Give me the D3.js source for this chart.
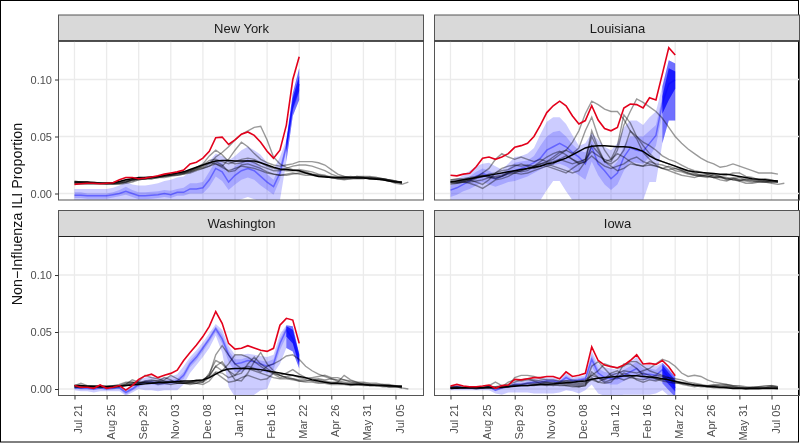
<!DOCTYPE html>
<html>
<head>
<meta charset="utf-8">
<script src="https://cdn.jsdelivr.net/npm/d3@7"></script>
<style>
  body { margin: 0; background: #fff; }
  text { font-family: "Liberation Sans", Arial, sans-serif; }
  svg { filter: blur(0.3px); }
</style>
</head>
<body>
<svg id="chart" width="800" height="443"></svg>
<script>
// all season values are ILI proportion x 1000, weekly from Jul 21
const tickLabels = ["Jul 21", "Aug 25", "Sep 29", "Nov 03", "Dec 08", "Jan 12", "Feb 16", "Mar 22", "Apr 26", "May 31", "Jul 05"];
const tickWeeks = [0, 5, 10, 15, 20, 25, 30, 35, 40, 45, 50];
const yTicks = [0, 0.05, 0.10];
const states = ["New York", "Louisiana", "Washington", "Iowa"];
const nowWeeks = [33, 34, 35];

// New York
const nyRed = [8,8.5,9,9,8.5,9,9.5,12,14,14,13,13.5,14.5,15.5,17,18,19,20.5,26,27.5,31,37,49,49.5,43,47,52,54,51,45,37,31,38,60,100,120];
const nyMed = [-1.5,-1.5,-2,-2,-2,-2,-1,0,2,0,-2,-2,-1.5,-1,0,-1,1,1,4,4,5,12,22,19,10,16,20,22,20,15,10,6,18,42,78,96];
const nyOuterHi = [4,4,4,4,4,4,5,7,10,8,7,7,8,9,11,12,14,15,19,20,22,28,35,33,29,33,38,41,38,34,27,21,32,47,88,110];
const nyOuterLo = [-14,-14,-14,-14,-14,-14,-13,-12,-10,-12,-14,-14,-14,-13,-12,-13,-11,-11,-9,-9,-9,-8,-8,-8,-8,-7,-5,-3,-5,-7,-7,-6,-6,28,68,82];
const nyInnerHi = [1,1,0,0,0,0,1,3,6,3,1,1,1.5,2,3,2.5,4,5,9,9,10,19,29,27,18,24,28,30,28,23,17,12,24,45,84,103];
const nyInnerLo = [-4,-4,-4.5,-4.5,-4.5,-4.5,-3.5,-2.5,-1,-3,-5,-5,-4.5,-4,-3,-4,-2,-2,0,0,0,6,15,11,3,8,12,14,12,7,3,-1,12,38,72,88];
const nyNowOuterHi = [47,88,110], nyNowOuterLo = [28,68,82], nyNowInnerHi = [45,84,103], nyNowInnerLo = [36,74,90];
const nyMean = [10,10,10,9.5,9,9,9.5,10.5,12,13,14,14,14.5,15,16,17,18,19,21,23,25,27,28.5,29,29,28.5,28.5,28.5,28.5,27,25,23,21.5,21,20.5,20,18,16.5,15,14.5,14,14,14,14,13.5,13.5,13,12.5,12,11,10,10];
const nyGrey = [
  [9,9,8,8,8,8,9,9,10,12,13,13,14,15,16,17,18,19,20,22,23,26,32,36,41,47,52,55,58,59,47,32,26,23,21,20,19,17,16,15,15,14,14,15,14,14,13,13,12,11,10,9],
  [10,10,9,9,9,9,9,9,10,11,13,13,13,14,14,15,16,17,19,21,24,27,26,24,30,38,45,41,35,30,27,25,24,25,26,28,28,28,27,25,21,17,15,14,14,14,13,13,13,12,11,9],
  [11,10,10,10,9,9,9,10,11,12,13,14,14,15,16,16,17,18,20,23,26,33,38,34,28,26,27,29,27,24,22,20,20,22,24,25,25,24,22,20,17,15,15,14,15,15,15,14,13,12,11,9],
  [10,10,10,9,9,9,8,9,10,12,13,13,14,14,15,16,16,17,18,20,22,24,26,23,20,22,24,23,22,20,18,17,16,16,17,18,18,17,16,15,14,13,13,13,14,14,14,13,13,12,11,10],
  [9,9,9,10,9,8,9,10,11,12,12,13,14,15,15,16,17,18,20,22,25,29,30,28,26,28,30,31,30,27,24,22,21,20,20,21,20,19,17,16,14,14,13,14,15,14,14,14,13,12,10,10],
  [8,8,9,9,9,9,8,8,9,10,12,13,13,14,15,16,18,18,19,21,22,24,28,25,19,20,25,26,24,22,19,17,16,17,18,17,16,16,15,15,14,13,12,13,13,13,14,13,12,11,9,8,10]
];

// Louisiana
const laRed = [16,15.5,17,17.7,23.5,31,32,30,32,35,40.5,42,44,50,60,71,77,81,77,68,61,64,77,64.5,57,55,58,75,78.5,78,75,84,82,105,128,121.5];
const laMed = [3,5,8,11,15,18,15,13,15,18,20,22,24,27,31,38,41,44,41,36,32,26,41,26,20,13,18,32,40,38,37,44,51,79,96,100];
const laOuterHi = [11,13,16,20,24,26,27,24,21,26,32,33,35,40,52,63,67,67,61,51,42,44,53,47,41,38,44,58,64,64,60,67,72,94,117,114];
const laOuterLo = [-8,-8,-8,-8,-8,-8,-8,-8,-8,-8,-8,-9,-10,-10,-6,3,11,11,2,-6,-20,-20,-15,-15,-20,-25,-22,-18,-12,-8,-6,10,10,44,64,64];
const laInnerHi = [7,9,12,15,19,22,20,17,18,22,27,28,29,33,42,50,54,55,50,43,38,36,47,36,30,22,28,42,50,50,50,55,60,85,110,107];
const laInnerLo = [-3,-1,2,4,7,10,8,6,8,10,11,13,15,18,21,24,25,26,24,20,16,12,28,16,8,3,8,20,28,27,26,32,42,70,82,92];
const laNowOuterHi = [94,117,114], laNowOuterLo = [44,64,64], laNowInnerHi = [85,110,107], laNowInnerLo = [70,82,92];
const laMean = [10,11,12,13,14,15,16,17,18,19,20,21,22,23,24,26,27,29,31,34,37,40,41.5,42,42,41.5,41,41,40.5,39,37,33,30,28,26,24,22,20,19,18.5,18,17.5,17,17,16,15,14,13,12.5,12,11.5,11];
const laGrey = [
  [12,12,12,13,14,18,22,30,35,32,30,32,30,28,30,28,30,34,38,45,55,70,81,78,74,72,72,65,55,50,45,42,38,33,30,28,25,22,20,19,17,16,15,16,18,18,15,14,12,13,12,10],
  [10,10,11,12,10,8,12,18,22,24,25,24,25,24,26,27,28,30,28,26,28,30,37,33,30,28,38,60,72,83,80,76,72,66,58,50,44,39,35,31,28,26,23,24,26,24,22,20,18,18,18,17],
  [9,9,10,10,11,12,14,15,16,18,19,20,22,24,26,28,32,36,38,35,40,55,67,50,38,30,42,69,62,50,42,35,30,28,26,24,21,20,18,16,17,15,14,14,12,11,13,12,12,11,11,10],
  [11,10,10,9,7,4.5,8,12,13,15,18,20,22,23,25,24,26,30,33,30,26,28,55,40,28,30,35,32,28,25,24,25,24,22,21,22,20,18,16,15,14,17,15,12,13,11,9,9,10,10,11,11],
  [8,9,10,12,14,16,15,14,15,17,18,17,18,20,22,24,22,20,18,22,26,28,33,28,24,22,24,26,30,32,28,26,24,22,20,18,16,15,14,16,15,14,12,11,13,14,12,11,10,10,9,8,9],
  [10,10,11,11,13,15,17,18,20,21,24,26,24,22,24,26,24,22,20,18,20,28,42,36,28,24,20,22,26,25,24,28,26,25,23,20,19,17,16,15,16,14,15,13,12,12,11,10,11,10,10,10],
  [12,13,13,14,15,16,14,13,15,18,20,19,20,24,28,32,35,37,34,30,27,30,50,38,28,26,30,38,55,48,36,30,25,22,24,22,20,18,17,16,15,14,14,13,14,12,12,12,11,11,10,10]
];

// Washington
const waRed = [3,1.5,1.5,0.6,3.5,0.6,1.5,3,-1,3,8.5,11.5,13,10,12,13.7,16.5,25,32,38.6,46,55,68,57.6,40,35,35.7,38,36,34,33,35.7,56,62,60.5,40];
const waMed = [1,0.5,0.5,0,1,0,0.5,1,-3,0,4,6,6,5,5.5,6,7,12,22,28,36,44,53,44,30,22,23,25,24,22,20,22,40,52,44,24];
const waOuterHi = [3,2,2,1,3,1,2,3,0,3,8,10,11,9,10,11,13,20,28,34,41,49,57,52,38,30,30,31,30,29,28,30,48,56,55,31];
const waOuterLo = [-1,-2,-2,-3,-2,-2,-2,-2,-6,-3,0,-1,-1,-2,-1,-1,-1,4,14,21,28,36,47,32,2,-7,-8,-8,-5,-1,0,14,22,36,33,18];
const waInnerHi = [2,1,1,0.5,2,0.5,1,2,-1,1.5,6,8,8,7,7.5,8,9,15,25,31,38,46,55,48,34,26,26,28,27,25,24,26,44,55,52,30];
const waInnerLo = [0,0,0,-1,0,-0.5,0,0,-5,-1.5,2,4,4,3,3.5,4,5,9,19,25,33,41,50,40,24,15,15,18,18,16,14,17,34,46,40,21];
const waNowOuterHi = [56,55,31], waNowOuterLo = [36,33,18], waNowInnerHi = [55,52,30], waNowInnerLo = [46,40,21];
const waMean = [3,3,2.5,2.5,2.5,2,2,2.5,3,3.5,4,4.5,5,5.5,6,6,6.5,7,7,7.5,8,10,13,16,17.5,18,18,18,17.5,17,16,15,14,13,12,11,10,8,7,6,5,5,4.5,4,4,4,3.5,3.5,3,3,2.5,2.5];
const waGrey = [
  [3,5,3,2,2,2,3,4,6,6,5,6,7,7,10,8,5,5,5,7,8,12,30,38,30,22,18,18,16,14,12,10,9,9,8,7,7,8,9,8,9,7,6,5,5,4,4,3,3,3,3,1,0],
  [2,2,2,1,2,2,3,3,5,6,5,7,8,7,6,7,6,5,6,7,6,10,15,14,10,12,18,20,18,15,20,22,25,29,30,26,20,16,13,11,9,8,8,7,6,6,5,5,4,4,3,2],
  [2,3,3,3,2,1,2,3,4,8,6,5,5,6,8,12,9,6,6,8,7,11,20,16,22,30,30,28,24,20,16,13,10,11,12,10,9,10,11,12,10,10,8,6,5,5,4,3,4,3,3,3],
  [1,2,2,2,1,2,2,3,3,5,7,12,10,9,7,6,5,5,5,5,6,14,25,22,16,8,7,14,24,32,22,16,12,14,17,13,10,9,8,7,6,6,12,8,6,4,3,3,2,2,2,2],
  [2,1,2,2,3,2,1,2,3,4,5,6,6,4,5,6,7,5,4,5,8,12,20,24,16,12,14,22,28,22,18,14,12,10,9,8,8,7,6,6,5,6,5,4,4,4,3,3,3,2,2,1],
  [3,3,2,2,2,3,3,2,4,5,6,6,5,6,5,4,5,5,6,5,4,7,14,10,6,7,10,12,10,8,9,14,12,10,9,7,6,6,5,5,4,4,4,3,4,3,3,3,3,2,2,1]
];

// Iowa
const iaRed = [2.6,4,2.6,2,2,2.6,3.5,0.6,3,3.5,8.5,8,9,10,10,11,11,9,15,11,12,13.7,37,25,21,19.6,18.7,21,25,30,22,22.5,21.6,25,19.6,11.7];
const iaMed = [1,2,1,1,1,1,2,-1,1,2,4,4,5,6,6,7,7,6,10,7,8,9,26,14,10,9,9,12,15,18,13,13,12,17,10,1];
const iaOuterHi = [2.5,3.5,2,1.5,1.5,2,3,0,2.5,3,7,7,8,9,9,10,10,8,14,10,11,12,33,22,19,18,17,20,24,28,21,21,20,23,18,9];
const iaOuterLo = [-1,-1,-1,-1,-1,-1,-1,-4,-5,-3,-3,-3,-3,-4,-4,-4,-4,-3,-1,-2,-4,-1,4,-4,-6,-6,-6,-5,-5,-5,-5,-5,-4,-1,-6,-10];
const iaInnerHi = [2,3,1.5,1,1.5,1.5,2.5,-0.5,2,2.5,5.5,5.5,6.5,7.5,7.5,8.5,8.5,7,12,8.5,9.5,10.5,30,18,15,14,14,17,20,24,18,18,17,22,16,7];
const iaInnerLo = [0,1,0.5,0,0,0,1,-2,0,1,2,2,3,4,4,5,5,4,7,5,6,7,20,9,5,4,4,7,10,12,8,8,7,14,5,-4];
const iaNowOuterHi = [23,17,11], iaNowOuterLo = [5,-1,-7], iaNowInnerHi = [21,14,8], iaNowInnerLo = [10,4,-2];
const iaMean = [0.7,0.7,1,1,1,1,1,1,1.5,2,2.5,3,3,3.5,4,4,4.5,5,5.5,6,6.5,7,8.5,9.5,10,10.5,11,11.5,11.7,11.7,11,10.5,10,9,8,6.5,5.5,4.5,3.5,3,2.5,2,1.5,1,0.5,0.5,0.5,0.5,0.5,0.5,0.5,0.5];
const iaGrey = [
  [1,2,1,1,1,1,3,6,3,3,10,12,12,11,9,8,8,7,7,6,5,6,12,16,22,20,18,20,24,24,20,16,14,12,10,9,8,6,5,4,3,3,4,4,3,2,1,1,2,2,3,2],
  [2,1,1,1,2,2,2,1,2,6,8,7,8,8,7,6,5,6,7,8,7,8,12,10,8,12,14,16,15,14,16,18,22,26,24,20,14,11,12,11,8,6,5,4,3,3,2,1,1,1,1,1],
  [1,1,2,1,1,1,2,2,3,4,6,8,9,7,5,5,4,5,5,4,3,4,20,24,18,12,10,8,10,12,14,12,9,7,6,5,5,4,4,3,2,3,2,3,2,1,1,1,1,1,2,1],
  [0,1,1,1,0,1,1,1,1,2,3,3,3,4,4,4,3,4,3,3,2,3,15,10,6,8,10,14,12,8,6,8,7,9,10,7,5,4,3,2,2,2,1,1,1,1,0,0,0,1,2,1],
  [2,2,1,2,1,1,1,2,1,3,4,4,5,5,5,6,6,5,4,5,4,5,8,6,5,6,12,22,22,18,12,10,9,8,8,7,6,5,3,3,3,4,3,2,2,1,1,2,2,3,3,2],
  [1,1,1,1,1,1,2,1,2,2,3,3,3,3,4,3,4,3,3,2,2,3,10,6,9,14,16,12,10,9,8,10,12,11,8,6,4,3,2,3,2,1,1,2,1,1,0,1,1,1,1,0]
];

const panels = [
  {red: nyRed, med: nyMed, oHi: nyOuterHi, oLo: nyOuterLo, iHi: nyInnerHi, iLo: nyInnerLo, nOHi: nyNowOuterHi, nOLo: nyNowOuterLo, nIHi: nyNowInnerHi, nILo: nyNowInnerLo, mean: nyMean, grey: nyGrey},
  {red: laRed, med: laMed, oHi: laOuterHi, oLo: laOuterLo, iHi: laInnerHi, iLo: laInnerLo, nOHi: laNowOuterHi, nOLo: laNowOuterLo, nIHi: laNowInnerHi, nILo: laNowInnerLo, mean: laMean, grey: laGrey},
  {red: waRed, med: waMed, oHi: waOuterHi, oLo: waOuterLo, iHi: waInnerHi, iLo: waInnerLo, nOHi: waNowOuterHi, nOLo: waNowOuterLo, nIHi: waNowInnerHi, nILo: waNowInnerLo, mean: waMean, grey: waGrey},
  {red: iaRed, med: iaMed, oHi: iaOuterHi, oLo: iaOuterLo, iHi: iaInnerHi, iLo: iaInnerLo, nOHi: iaNowOuterHi, nOLo: iaNowOuterLo, nIHi: iaNowInnerHi, nILo: iaNowInnerLo, mean: iaMean, grey: iaGrey}
];

const svg = d3.select("#chart");
const panelW = 365, panelH = 159, stripH = 26;
const lefts = [58.5, 434.5], tops = [41, 236.5];

// picture frame
svg.append("rect").attr("x", 0.5).attr("y", 0.5).attr("width", 798).attr("height", 441.5)
  .attr("fill", "#fff").attr("stroke", "#000");

svg.append("text")
  .attr("transform", "translate(22,214) rotate(-90)")
  .attr("text-anchor", "middle")
  .attr("font-size", 14.3)
  .attr("fill", "#111")
  .text("Non\u2212Influenza ILI Proportion");

const x = d3.scaleLinear().domain([-2.49, 54.36]).range([0, panelW]);
const y = d3.scaleLinear().domain([-0.0057, 0.1338]).range([panelH, 0]);

const lineOf = d3.line().x((d, i) => x(i)).y(d => y(d / 1000));

function bandPath(lo, hi, startWeek) {
  return d3.area()
    .x((d, i) => x(startWeek + i))
    .y0((d, i) => y(lo[i] / 1000))
    .y1(d => y(d / 1000))(hi);
}

states.forEach(function(name, p) {
  const data = panels[p];
  const col = p % 2, row = Math.floor(p / 2);
  const g = svg.append("g").attr("transform", "translate(" + lefts[col] + "," + tops[row] + ")");

  // strip
  g.append("rect").attr("x", 0).attr("y", -stripH).attr("width", panelW).attr("height", stripH)
    .attr("fill", "#d9d9d9").attr("stroke", "#555").attr("stroke-width", 1);
  g.append("text").attr("x", panelW / 2 + 0.5).attr("y", -8.5).attr("text-anchor", "middle")
    .attr("font-size", 13).attr("fill", "#1a1a1a").text(name);

  // grid
  g.append("g").selectAll("line").data(tickWeeks).join("line")
    .attr("x1", d => x(d)).attr("x2", d => x(d)).attr("y1", 0).attr("y2", panelH)
    .attr("stroke", "#ebebeb").attr("stroke-width", 1.3);
  g.append("g").selectAll("line").data(yTicks).join("line")
    .attr("x1", 0).attr("x2", panelW).attr("y1", d => y(d)).attr("y2", d => y(d))
    .attr("stroke", "#ebebeb").attr("stroke-width", 1.3);

  // marks are clipped to the panel
  svg.append("clipPath").attr("id", "clip" + p).append("rect")
    .attr("width", panelW).attr("height", panelH);
  const marks = g.append("g").attr("clip-path", "url(#clip" + p + ")");

  marks.append("path").attr("d", bandPath(data.oLo, data.oHi, 0)).attr("fill", "#0000ff").attr("fill-opacity", 0.2);
  marks.append("path").attr("d", bandPath(data.iLo, data.iHi, 0)).attr("fill", "#0000ff").attr("fill-opacity", 0.18);
  marks.append("path").attr("d", bandPath(data.nOLo, data.nOHi, nowWeeks[0])).attr("fill", "#0000ff").attr("fill-opacity", 0.45);
  marks.append("path").attr("d", bandPath(data.nILo, data.nIHi, nowWeeks[0])).attr("fill", "#0000ff").attr("fill-opacity", 0.7);
  marks.append("path").attr("d", lineOf(data.med)).attr("fill", "none")
    .attr("stroke", "#0000ff").attr("stroke-opacity", 0.4).attr("stroke-width", 1.5);

  marks.selectAll("path.season").data(data.grey).join("path")
    .attr("class", "season").attr("d", lineOf).attr("fill", "none")
    .attr("stroke", "#000").attr("stroke-opacity", 0.4).attr("stroke-width", 1.4);
  marks.append("path").attr("d", lineOf(data.mean)).attr("fill", "none")
    .attr("stroke", "#000").attr("stroke-width", 1.5);
  marks.append("path").attr("d", lineOf(data.red)).attr("fill", "none")
    .attr("stroke", "#e3001b").attr("stroke-width", 1.6);

  // panel border
  g.append("rect").attr("width", panelW).attr("height", panelH)
    .attr("fill", "none").attr("stroke", "#555").attr("stroke-width", 1);
  g.append("line").attr("x1", 0).attr("x2", panelW).attr("y1", 0).attr("y2", 0)
    .attr("stroke", "#222").attr("stroke-width", 1.2);

  // axes
  if (col === 0) {
    const ya = g.append("g").call(d3.axisLeft(y).tickValues(yTicks).tickFormat(d3.format(".2f")).tickSize(3.5).tickPadding(3));
    ya.select(".domain").remove();
    ya.selectAll("line").attr("stroke", "#333");
    ya.selectAll("text").attr("font-size", 11).attr("fill", "#4d4d4d").attr("font-family", "Liberation Sans");
  }
  if (row === 1) {
    const xa = g.append("g").attr("transform", "translate(0," + panelH + ")")
      .call(d3.axisBottom(x).tickValues(tickWeeks).tickFormat((d, i) => tickLabels[i]).tickSize(4));
    xa.select(".domain").remove();
    xa.selectAll("line").attr("stroke", "#333");
    xa.selectAll("text")
      .attr("font-size", 11).attr("fill", "#4d4d4d").attr("font-family", "Liberation Sans")
      .attr("text-anchor", "end").attr("dy", null)
      .attr("transform", "translate(7.5,9) rotate(-90)").attr("x", 0).attr("y", 0);
  }
});
</script>
</body>
</html>
